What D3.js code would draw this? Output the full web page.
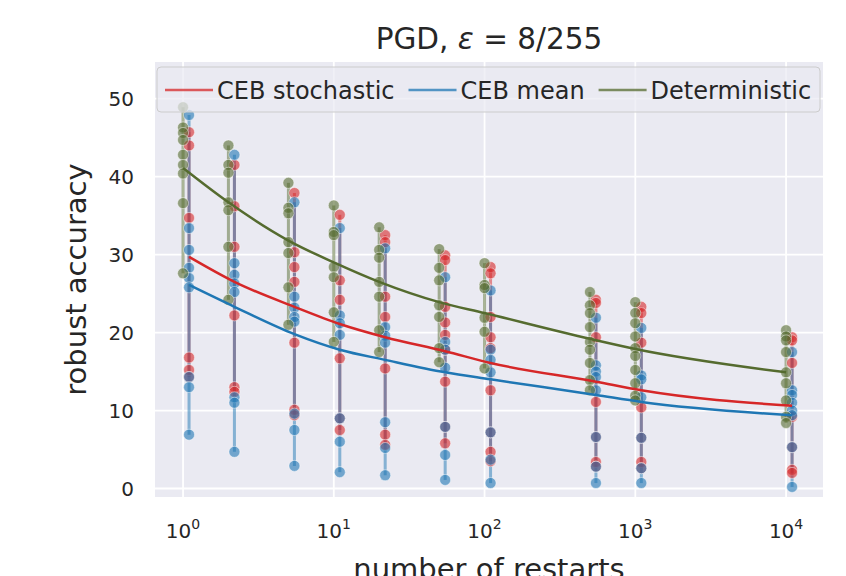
<!DOCTYPE html>
<html>
<head>
<meta charset="utf-8">
<script src="https://cdn.jsdelivr.net/npm/d3@7"></script>
<style>
  body { margin: 0; background: #ffffff; }
  svg text { font-family: "DejaVu Sans", sans-serif; fill: #262626; }
</style>
</head>
<body>
<svg id="chart" width="846" height="576"></svg>
<script>
// Number of random restarts of the PGD attack
const restarts = [1, 2, 5, 10, 20, 50, 100, 500, 1000, 10000];

// Robust accuracy (%) of each trained model, one list per restart count
const stochasticRuns = [
  [45.7, 44.0, 34.7, 16.8, 15.2, 14.3],
  [41.5, 36.2, 31.0, 22.2, 13.0, 12.4],
  [37.9, 30.3, 28.4, 26.5, 18.7, 10.1, 9.4],
  [35.1, 26.7, 24.2, 16.7, 9.0, 7.5],
  [32.5, 31.6, 24.6, 22.0, 15.4, 6.9, 5.6],
  [29.9, 29.3, 23.3, 21.3, 19.7, 17.8, 13.7, 7.9, 5.8],
  [28.4, 27.6, 22.0, 19.4, 18.0, 12.6, 7.2, 4.7, 3.5],
  [24.2, 23.8, 19.4, 11.1, 6.6, 3.4, 2.8],
  [23.3, 22.5, 18.7, 10.4, 6.5, 3.4, 2.6],
  [19.4, 19.0, 16.1, 9.2, 5.3, 2.4, 2.0]
];
const meanRuns = [
  [47.9, 33.4, 30.6, 28.3, 27.0, 25.8, 14.3, 13.0, 6.9],
  [42.8, 28.9, 27.4, 26.3, 25.2, 11.7, 11.0, 4.7],
  [36.7, 24.6, 23.2, 22.0, 21.4, 9.6, 7.5, 2.9],
  [33.4, 22.2, 21.2, 19.7, 9.0, 6.0, 2.1],
  [30.8, 20.7, 19.6, 18.7, 8.5, 5.2, 1.7],
  [27.1, 18.8, 17.8, 15.5, 7.9, 4.3, 1.1],
  [25.4, 17.8, 16.5, 14.9, 7.2, 3.7, 0.7],
  [21.9, 15.8, 15.0, 14.3, 12.6, 6.6, 2.8, 0.7],
  [20.6, 14.5, 14.0, 11.7, 6.5, 2.6, 0.7],
  [17.5, 12.6, 12.0, 11.0, 10.0, 9.4, 5.3, 0.2]
];
const deterministicRuns = [
  [48.9, 46.3, 45.6, 44.7, 42.8, 41.5, 40.4, 36.6, 27.6],
  [44.0, 41.5, 40.5, 36.7, 35.7, 31.0, 24.2],
  [39.2, 36.0, 35.3, 31.6, 30.2, 25.8, 21.0],
  [36.3, 32.9, 32.5, 28.4, 27.1, 22.6, 18.8],
  [33.5, 30.6, 29.6, 26.5, 24.6, 20.3, 17.5],
  [30.7, 28.3, 26.7, 23.5, 22.0, 18.0, 16.2],
  [28.9, 26.1, 25.7, 21.9, 20.1, 15.4],
  [25.2, 23.5, 22.5, 20.7, 18.8, 17.8, 16.1, 13.9, 12.6],
  [23.9, 22.5, 21.2, 19.5, 18.0, 17.0, 15.2, 13.5, 11.9, 11.3],
  [20.3, 19.5, 19.0, 17.5, 14.9, 13.5, 11.3, 9.2, 8.4]
];

// Fitted trend of robust accuracy at each restart count
const stochasticFit    = [29.7, 26.5, 23.3, 21.1, 19.4, 17.6, 16.1, 13.7, 12.6, 10.6];
const meanFit          = [26.1, 23.3, 19.8, 17.8, 16.5, 14.9, 14.0, 12.0, 11.1, 9.4];
const deterministicFit = [41.1, 36.7, 31.8, 29.0, 26.5, 23.9, 22.5, 19.2, 17.9, 14.9];

const seriesNames = ["CEB stochastic", "CEB mean", "Deterministic"];
const yTicks = [0, 10, 20, 30, 40, 50];
const xTickExponents = [0, 1, 2, 3, 4];

const series = [
  { name: seriesNames[0], runs: stochasticRuns,    fit: stochasticFit,    color: "#d62728", dodge: 6 },
  { name: seriesNames[1], runs: meanRuns,          fit: meanFit,          color: "#1f77b4", dodge: 6 },
  { name: seriesNames[2], runs: deterministicRuns, fit: deterministicFit, color: "#556b2f", dodge: 0 }
];

const svg = d3.select("#chart");
const area = { left: 155, right: 823, top: 62, bottom: 497 };

const x = d3.scaleLog()
  .domain([Math.pow(10, -0.186), Math.pow(10, 4.245)])
  .range([area.left, area.right]);
const y = d3.scaleLinear()
  .domain([-1.09, 54.7])
  .range([area.bottom, area.top]);

// Axes background and grid
svg.append("rect")
  .attr("x", area.left).attr("y", area.top)
  .attr("width", area.right - area.left).attr("height", area.bottom - area.top)
  .attr("fill", "#eaeaf2");

const grid = svg.append("g");
grid.selectAll("line.gx").data(xTickExponents).join("line")
  .attr("x1", d => x(Math.pow(10, d))).attr("x2", d => x(Math.pow(10, d)))
  .attr("y1", area.top).attr("y2", area.bottom)
  .attr("stroke", "#ffffff").attr("stroke-width", 1.8);
grid.selectAll("line.gy").data(yTicks).join("line")
  .attr("x1", area.left).attr("x2", area.right)
  .attr("y1", d => y(d)).attr("y2", d => y(d))
  .attr("stroke", "#ffffff").attr("stroke-width", 1.8);

// Tick labels
svg.append("g").selectAll("text").data(yTicks).join("text")
  .attr("x", 134).attr("y", d => y(d))
  .attr("dy", "0.36em")
  .attr("text-anchor", "end")
  .attr("font-size", 20)
  .text(d => d);

const xLabels = svg.append("g").selectAll("text").data(xTickExponents).join("text")
  .attr("x", d => x(Math.pow(10, d)))
  .attr("y", 538)
  .attr("text-anchor", "middle")
  .attr("font-size", 20);
xLabels.append("tspan").text("10");
xLabels.append("tspan").attr("dy", -9).attr("font-size", 14).text(d => d);

// Vertical spans joining each model group's runs
const spans = svg.append("g");
series.forEach(s => {
  spans.selectAll(null).data(restarts).join("line")
    .attr("x1", (r) => x(r) + s.dodge).attr("x2", (r) => x(r) + s.dodge)
    .attr("y1", (r, i) => y(d3.max(s.runs[i])))
    .attr("y2", (r, i) => y(d3.min(s.runs[i])))
    .attr("stroke", s.color)
    .attr("stroke-opacity", 0.5)
    .attr("stroke-width", 3);
});

// Individual runs
const dots = svg.append("g");
series.forEach(s => {
  const pts = [];
  restarts.forEach((r, i) => s.runs[i].forEach(v => pts.push({ r, v })));
  dots.selectAll(null).data(pts).join("circle")
    .attr("cx", d => x(d.r) + s.dodge)
    .attr("cy", d => y(d.v))
    .attr("r", 5.5)
    .attr("fill", s.color)
    .attr("fill-opacity", 0.6)
    .attr("stroke", "#ffffff")
    .attr("stroke-opacity", 0.6)
    .attr("stroke-width", 0.8);
});

// Fitted trends
const fits = svg.append("g");
series.forEach(s => {
  const line = d3.line()
    .x((d, i) => x(restarts[i]) + s.dodge)
    .y(d => y(d))
    .curve(d3.curveMonotoneX);
  fits.append("path")
    .attr("d", line(s.fit))
    .attr("fill", "none")
    .attr("stroke", s.color)
    .attr("stroke-width", 2.5);
});

// Legend
const legend = svg.append("g");
legend.append("rect")
  .attr("x", 157).attr("y", 67).attr("width", 663).attr("height", 45)
  .attr("rx", 4)
  .attr("fill", "#eaeaf2").attr("fill-opacity", 0.7)
  .attr("stroke", "#cccccc").attr("stroke-width", 1);
let lx = 165;
series.forEach(s => {
  legend.append("line")
    .attr("x1", lx).attr("x2", lx + 48)
    .attr("y1", 90).attr("y2", 90)
    .attr("stroke", s.color).attr("stroke-opacity", 0.75)
    .attr("stroke-width", 2.5);
  const t = legend.append("text")
    .attr("x", lx + 52).attr("y", 99)
    .attr("font-size", 24)
    .text(s.name);
  lx += 52 + t.node().getComputedTextLength() + 14;
});

// Title and axis labels
const title = svg.append("text")
  .attr("x", (area.left + area.right) / 2).attr("y", 49)
  .attr("text-anchor", "middle")
  .attr("font-size", 29.5);
title.append("tspan").text("PGD, ");
title.append("tspan").attr("font-style", "italic").text("ε");
title.append("tspan").text(" = 8/255");

svg.append("text")
  .attr("transform", `translate(86, ${(area.top + area.bottom) / 2}) rotate(-90)`)
  .attr("text-anchor", "middle")
  .attr("font-size", 29)
  .text("robust accuracy");

svg.append("text")
  .attr("x", (area.left + area.right) / 2).attr("y", 579)
  .attr("text-anchor", "middle")
  .attr("font-size", 29)
  .text("number of restarts");
</script>
</body>
</html>
